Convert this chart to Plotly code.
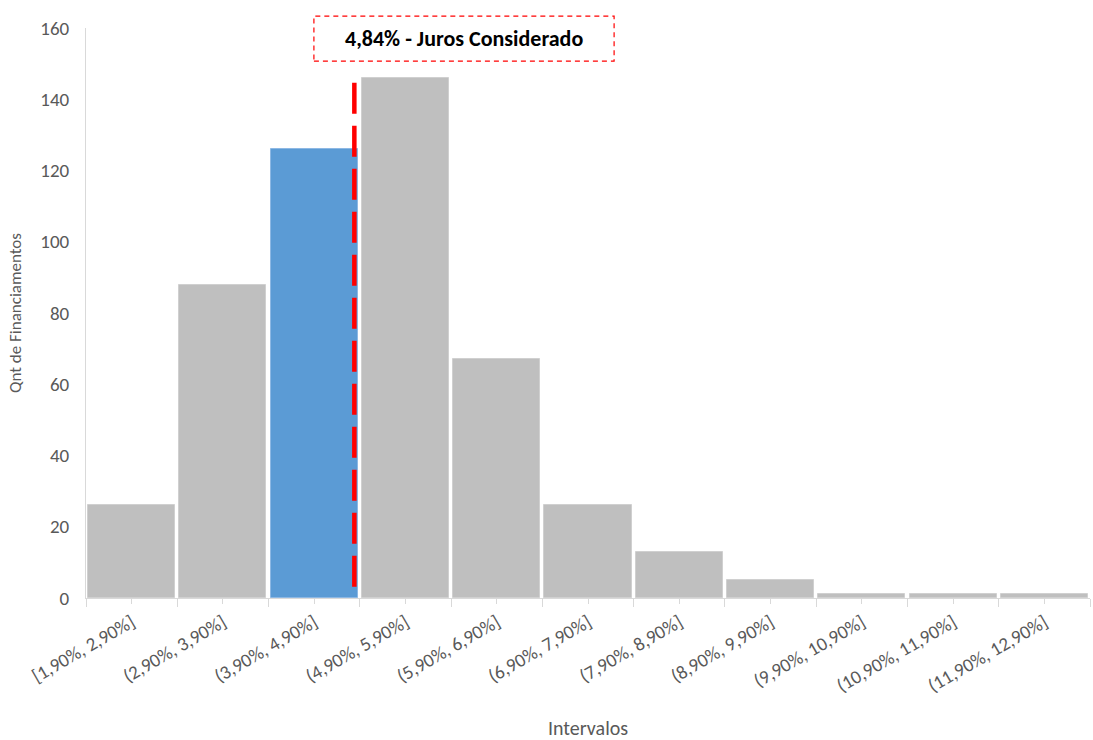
import plotly.graph_objects as go

# Interest-rate intervals (lower bound, %) and number of financings per interval
lower_bounds = [1.9, 2.9, 3.9, 4.9, 5.9, 6.9, 7.9, 8.9, 9.9, 10.9, 11.9]
interval_labels = [
    "[1,90%, 2,90%]", "(2,90%, 3,90%]", "(3,90%, 4,90%]", "(4,90%, 5,90%]",
    "(5,90%, 6,90%]", "(6,90%, 7,90%]", "(7,90%, 8,90%]", "(8,90%, 9,90%]",
    "(9,90%, 10,90%]", "(10,90%, 11,90%]", "(11,90%, 12,90%]",
]
counts = [26, 88, 126, 146, 67, 26, 13, 5, 1, 1, 1]

# Rate used in the analysis
considered_rate = 4.84
considered_label = "4,84% - Juros Considerado"
line_top = 144.6

centers = [b + 0.5 for b in lower_bounds]
highlight = next(i for i, b in enumerate(lower_bounds) if b < considered_rate <= b + 1)
colors = ["#5b9bd5" if i == highlight else "#bfbfbf" for i in range(len(counts))]
edges = ["#8db8e4" if i == highlight else "#d0d0d0" for i in range(len(counts))]

FONT = "Carlito, Lato, sans-serif"
GREY = "#595959"

fig = go.Figure()
fig.add_trace(go.Bar(
    x=centers, y=counts, width=0.955,
    marker=dict(color=colors, line=dict(width=1, color=edges)),
    hoverinfo="x+y", showlegend=False,
))

# Dashed marker line at the considered rate
fig.add_shape(
    type="line", xref="x", yref="y",
    x0=considered_rate, x1=considered_rate, y0=line_top, y1=0,
    line=dict(color="#ff0000", width=4.5, dash="31px,12px"),
)

# Dashed label box above the plot
fig.add_shape(
    type="rect", xref="paper", yref="paper",
    x0=0.227, x1=0.526, y0=0.942, y1=1.021,
    line=dict(color="#ff0000", width=1.2, dash="5px,4px"),
    fillcolor="white",
)
fig.add_annotation(
    xref="paper", yref="paper", x=0.3765, y=0.982,
    text="<b>%s</b>" % considered_label, showarrow=False,
    font=dict(family=FONT, size=22, color="#000000"),
    xanchor="center", yanchor="middle",
)

fig.update_layout(
    width=1093, height=740,
    margin=dict(l=86, r=3, t=28, b=142),
    paper_bgcolor="white", plot_bgcolor="white",
    font=dict(family=FONT, color=GREY, size=19),
    bargap=0,
    xaxis=dict(
        range=[lower_bounds[0], lower_bounds[-1] + 1],
        tickmode="array", tickvals=centers, ticktext=interval_labels,
        tickangle=-30, tickfont=dict(size=19, color=GREY),
        showline=True, linecolor="#d9d9d9", linewidth=1,
        ticks="outside", ticklen=5, tickcolor="#d9d9d9",
        minor=dict(tickvals=lower_bounds + [lower_bounds[-1] + 1], ticks="outside",
                   ticklen=8, tickcolor="#d9d9d9"),
        showgrid=False, zeroline=False, automargin=False,
        title=dict(text="Intervalos", font=dict(size=20, color=GREY), standoff=25),
    ),
    yaxis=dict(
        range=[0, 160], tickmode="linear", tick0=0, dtick=20,
        tickfont=dict(size=19, color=GREY),
        showline=True, linecolor="#d9d9d9", linewidth=1,
        showgrid=False, zeroline=False, ticks="", automargin=False,
        ticklabelstandoff=12,
        title=dict(text="Qnt de Financiamentos", font=dict(size=17, color=GREY), standoff=14),
    ),
)

fig.write_html("out.html")
